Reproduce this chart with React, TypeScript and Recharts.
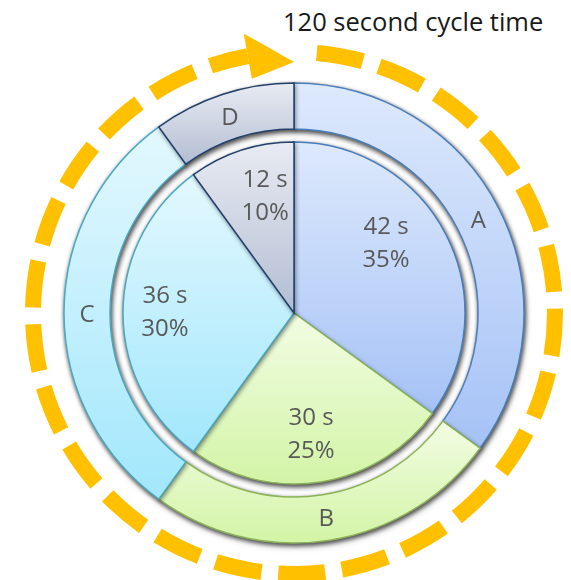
import React from 'react';
import { PieChart, Pie, Cell, Customized } from 'recharts';

// ---- data ----
const categories = ['A', 'B', 'C', 'D'];
const seconds = [42, 30, 36, 12];
const cycleTitle = '120 second cycle time';

// ---- styling / layout ----
const W = 571;
const H = 580;
const CX = 294;
const CY = 313;
const FONT = '"Open Sans", "Noto Sans", sans-serif';
const LABEL_COLOR = '#595959';
const gradients = [
  { id: 'gA', top: '#dde9fc', bottom: '#a5c2f6', stroke: '#4a7ebb' },
  { id: 'gB', top: '#f1fde3', bottom: '#d3f4a6', stroke: '#8cb35a' },
  { id: 'gC', top: '#e3f8fe', bottom: '#a2e7fc', stroke: '#4aa8c2' },
  { id: 'gD', top: '#e8ebf2', bottom: '#b3bdd3', stroke: '#23406a' },
];
// per-slice label placement tweaks (radius, angle adjustment in degrees)
const innerLabelLayout = [
  { r: 116, adj: 10.5 },
  { r: 121, adj: -0.9 },
  { r: 129, adj: -0.7 },
  { r: 121, adj: -4.2 },
];
const OUTER_LABEL_R = 207;

const data = categories.map((name, i) => ({ name, value: seconds[i] }));
const RAD = Math.PI / 180;

const renderInnerLabel = (props: any) => {
  const { midAngle, index, value, percent } = props;
  const lay = innerLabelLayout[index];
  const a = (midAngle + lay.adj) * RAD;
  const x = CX + lay.r * Math.cos(a);
  const y = CY - lay.r * Math.sin(a);
  return (
    <text
      key={`il-${index}`}
      x={x}
      y={y}
      textAnchor="middle"
      fill={LABEL_COLOR}
      fontFamily={FONT}
      fontSize={24}
    >
      <tspan x={x} y={y - 8}>{`${value} s`}</tspan>
      <tspan x={x} y={y + 25}>{`${Math.round(percent * 100)}%`}</tspan>
    </text>
  );
};

const renderOuterLabel = (props: any) => {
  const { midAngle, index, name } = props;
  const a = midAngle * RAD;
  const x = CX + OUTER_LABEL_R * Math.cos(a);
  const y = CY - OUTER_LABEL_R * Math.sin(a);
  return (
    <text
      key={`ol-${index}`}
      x={x}
      y={y + 8.6}
      textAnchor="middle"
      fill={LABEL_COLOR}
      fontFamily={FONT}
      fontSize={24}
    >
      {name}
    </text>
  );
};

// dashed cycle circle with arrow
const R_CYCLE = 261;
const pt = (deg: number, r: number) => [CX + r * Math.sin(deg * RAD), CY - r * Math.cos(deg * RAD)];

const CycleDecoration = () => {
  const startDeg = 5;
  const endDeg = 349.8;
  const [sx, sy] = pt(startDeg, R_CYCLE);
  const [ex, ey] = pt(endDeg, R_CYCLE);
  const d = `M ${sx} ${sy} A ${R_CYCLE} ${R_CYCLE} 0 1 1 ${ex} ${ey}`;
  const baseDeg = endDeg;
  const u = [Math.sin(baseDeg * RAD), -Math.cos(baseDeg * RAD)];
  const [bx, by] = pt(baseDeg, R_CYCLE);
  const half = 23;
  const [tx, ty] = pt(0, R_CYCLE - 10);
  const tri = `${bx + half * u[0]},${by + half * u[1]} ${bx - half * u[0]},${by - half * u[1]} ${tx},${ty}`;
  return (
    <g>
      <path d={d} fill="none" stroke="#ffc000" strokeWidth={16} strokeDasharray="47 16.8" />
      <polygon points={tri} fill="#ffc000" />
      <text x={283} y={31} fontFamily={FONT} fontSize={25.5} fill="#1a1a1a">
        {cycleTitle}
      </text>
    </g>
  );
};

export default function App() {
  return (
    <div style={{ position: 'fixed', left: 0, top: 0, width: W, height: H, overflow: 'hidden', background: '#fff' }}>
      <style>{`.shadowed { filter: drop-shadow(1px 2px 2px rgba(0,0,0,0.45)); }`}</style>
      <PieChart width={W} height={H} margin={{ top: 0, right: 0, bottom: 0, left: 0 }}>
        <defs>
          {gradients.map((g) => (
            <linearGradient key={g.id} id={g.id} x1="0" y1="0" x2="0" y2="1">
              <stop offset="0%" stopColor={g.top} />
              <stop offset="100%" stopColor={g.bottom} />
            </linearGradient>
          ))}
        </defs>
        <Customized component={CycleDecoration} />
        <Pie
          className="shadowed"
          data={data}
          dataKey="value"
          nameKey="name"
          cx={CX}
          cy={CY}
          innerRadius={184}
          outerRadius={230}
          startAngle={90}
          endAngle={-270}
          paddingAngle={0}
          isAnimationActive={false}
          label={renderOuterLabel}
          labelLine={false}
        >
          {data.map((d, i) => (
            <Cell key={`o-${i}`} fill={`url(#${gradients[i].id})`} stroke={gradients[i].stroke} strokeWidth={1.5} />
          ))}
        </Pie>
        <Pie
          className="shadowed"
          data={data}
          dataKey="value"
          nameKey="name"
          cx={CX}
          cy={CY}
          innerRadius={0}
          outerRadius={171}
          startAngle={90}
          endAngle={-270}
          paddingAngle={0}
          isAnimationActive={false}
          label={renderInnerLabel}
          labelLine={false}
        >
          {data.map((d, i) => (
            <Cell key={`i-${i}`} fill={`url(#${gradients[i].id})`} stroke={gradients[i].stroke} strokeWidth={1.5} />
          ))}
        </Pie>
      </PieChart>
    </div>
  );
}
